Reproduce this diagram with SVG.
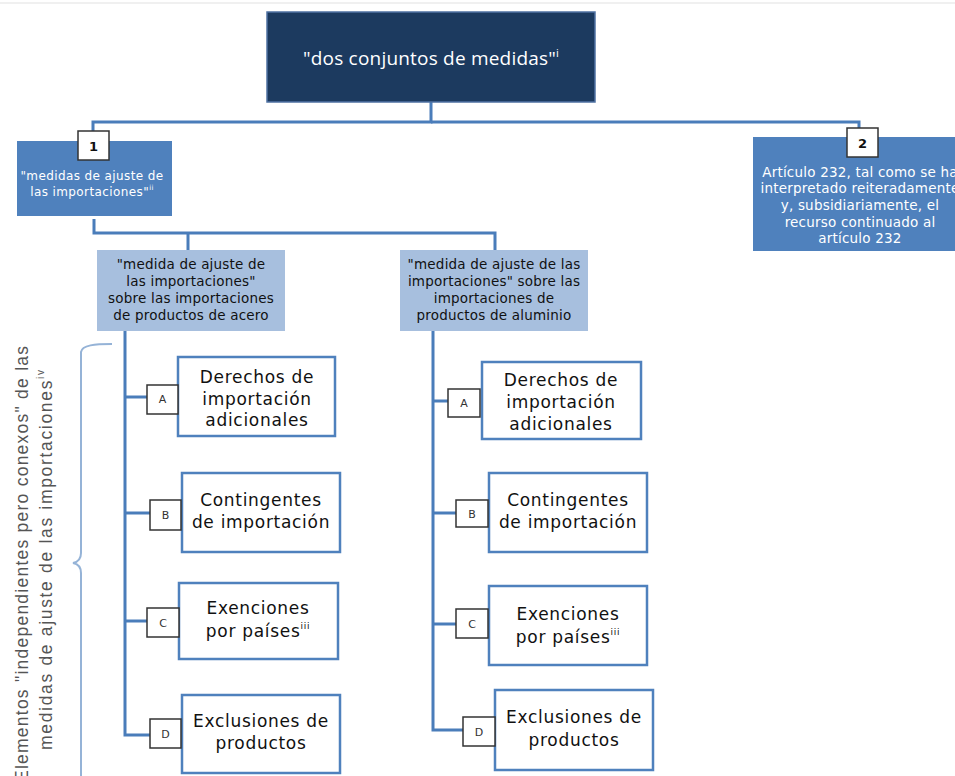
<svg xmlns="http://www.w3.org/2000/svg" width="955" height="776" viewBox="0 0 955 776">
<style>
  .conn{fill:none;stroke:#4a7dba;stroke-width:3;stroke-linejoin:miter}
  .badge{fill:#ffffff;stroke:#333333;stroke-width:1.5}
  .bl{font-family:"DejaVu Sans",Verdana,sans-serif;font-size:11px;fill:#333;text-anchor:middle}
  .bn{font-family:"DejaVu Sans",Verdana,sans-serif;font-size:13px;font-weight:bold;fill:#111;text-anchor:middle}
  .item{fill:#ffffff;stroke:#4f81bd;stroke-width:2.5}
  .it{font-family:"DejaVu Sans",Verdana,sans-serif;font-size:17px;fill:#111;text-anchor:middle;letter-spacing:0.7px}
  .mid{fill:#a7bfde}
  .mt{font-family:"DejaVu Sans",Verdana,sans-serif;font-size:13.5px;fill:#111;text-anchor:middle;letter-spacing:0.2px}
  .blue{fill:#4f81bd}
  .wt{font-family:"DejaVu Sans",Verdana,sans-serif;font-size:12px;fill:#ffffff;text-anchor:middle}
  .wt2{font-family:"DejaVu Sans",Verdana,sans-serif;font-size:13.5px;fill:#ffffff;text-anchor:middle;letter-spacing:0.2px}
</style>
<rect x="0" y="0" width="955" height="776" fill="#ffffff"/>
<line x1="0" y1="3" x2="955" y2="3" stroke="#f0f0f0" stroke-width="2"/>

<g id="connectors">
  <path class="conn" d="M431,102 V122 H93 V131"/>
  <path class="conn" d="M431,122 H859 V128"/>
  <path class="conn" d="M94,219 V233 H495 V250"/>
  <path class="conn" d="M188,233 V250"/>
  <path class="conn" d="M125,331 V735 H150"/>
  <path class="conn" d="M125,397 H147"/>
  <path class="conn" d="M125,513 H150"/>
  <path class="conn" d="M125,621 H147"/>
  <path class="conn" d="M433,331 V730 H463"/>
  <path class="conn" d="M433,401 H448"/>
  <path class="conn" d="M433,513 H456"/>
  <path class="conn" d="M433,624 H456"/>
</g>

<g id="root">
  <rect x="267" y="12" width="328" height="90" fill="#1c3a5f" stroke="#4f72a3" stroke-width="1.5"/>
  <text x="431" y="65" font-family="'Open Sans','DejaVu Sans',sans-serif" font-size="19" fill="#ffffff" text-anchor="middle" letter-spacing="0.2">"dos conjuntos de medidas"<tspan font-size="11" dy="-8">i</tspan></text>
</g>

<g id="node1">
  <rect class="blue" x="17" y="141" width="155" height="75"/>
  <text class="wt" x="92" y="180" letter-spacing="0.4">"medidas de ajuste de</text>
  <text class="wt" x="92" y="196" letter-spacing="0.4">las importaciones"<tspan font-size="7" dy="-6">ii</tspan></text>
  <rect class="badge" x="78" y="131" width="31" height="29"/>
  <text class="bn" x="93.5" y="151">1</text>
</g>

<g id="node2">
  <rect class="blue" x="753" y="137" width="214" height="114"/>
  <text class="wt2" x="860" y="177">Artículo 232,  tal como se ha</text>
  <text class="wt2" x="860" y="193">interpretado reiteradamente</text>
  <text class="wt2" x="860" y="210">y, subsidiariamente, el</text>
  <text class="wt2" x="860" y="227">recurso continuado al</text>
  <text class="wt2" x="860" y="243">artículo 232</text>
  <rect class="badge" x="847" y="128" width="31" height="29"/>
  <text class="bn" x="862.5" y="148">2</text>
</g>

<g id="steel">
  <rect class="mid" x="97" y="250" width="188" height="81"/>
  <text class="mt" x="191" y="269">"medida de ajuste de</text>
  <text class="mt" x="191" y="286">las importaciones"</text>
  <text class="mt" x="191" y="303">sobre las importaciones</text>
  <text class="mt" x="191" y="320">de productos de acero</text>
</g>

<g id="aluminium">
  <rect class="mid" x="400" y="250" width="188" height="81"/>
  <text class="mt" x="494" y="269">"medida de ajuste de las</text>
  <text class="mt" x="494" y="286">importaciones" sobre las</text>
  <text class="mt" x="494" y="303">importaciones de</text>
  <text class="mt" x="494" y="320">productos de aluminio</text>
</g>

<g id="steel-A">
  <rect class="item" x="178" y="357" width="157" height="79"/>
  <text class="it" x="257" y="383">Derechos de</text>
  <text class="it" x="257" y="405">importación</text>
  <text class="it" x="257" y="426">adicionales</text>
  <rect class="badge" x="147" y="385" width="31" height="29"/>
  <text class="bl" x="162.5" y="403">A</text>
</g>
<g id="steel-B">
  <rect class="item" x="182" y="473" width="158" height="79"/>
  <text class="it" x="261" y="506">Contingentes</text>
  <text class="it" x="261" y="528">de importación</text>
  <rect class="badge" x="150" y="500" width="31" height="30"/>
  <text class="bl" x="165.5" y="519">B</text>
</g>
<g id="steel-C">
  <rect class="item" x="179" y="583" width="159" height="76"/>
  <text class="it" x="258" y="614">Exenciones</text>
  <text class="it" x="258" y="637">por países<tspan font-size="9" dy="-8">iii</tspan></text>
  <rect class="badge" x="147" y="608" width="32" height="29"/>
  <text class="bl" x="163" y="627">C</text>
</g>
<g id="steel-D">
  <rect class="item" x="182" y="695" width="158" height="78"/>
  <text class="it" x="261" y="727">Exclusiones de</text>
  <text class="it" x="261" y="749">productos</text>
  <rect class="badge" x="150" y="719" width="31" height="29"/>
  <text class="bl" x="165.5" y="738">D</text>
</g>

<g id="alu-A">
  <rect class="item" x="482" y="362" width="159" height="77"/>
  <text class="it" x="561" y="386">Derechos de</text>
  <text class="it" x="561" y="408">importación</text>
  <text class="it" x="561" y="430">adicionales</text>
  <rect class="badge" x="448" y="389" width="32" height="28"/>
  <text class="bl" x="464" y="407">A</text>
</g>
<g id="alu-B">
  <rect class="item" x="489" y="473" width="158" height="79"/>
  <text class="it" x="568" y="506">Contingentes</text>
  <text class="it" x="568" y="528">de importación</text>
  <rect class="badge" x="456" y="500" width="32" height="27"/>
  <text class="bl" x="472" y="518">B</text>
</g>
<g id="alu-C">
  <rect class="item" x="489" y="586" width="158" height="79"/>
  <text class="it" x="568" y="620">Exenciones</text>
  <text class="it" x="568" y="643">por países<tspan font-size="9" dy="-8">iii</tspan></text>
  <rect class="badge" x="456" y="609" width="32" height="29"/>
  <text class="bl" x="472" y="628">C</text>
</g>
<g id="alu-D">
  <rect class="item" x="495" y="690" width="158" height="80"/>
  <text class="it" x="574" y="723">Exclusiones de</text>
  <text class="it" x="574" y="746">productos</text>
  <rect class="badge" x="463" y="717" width="32" height="29"/>
  <text class="bl" x="479" y="736">D</text>
</g>

<g id="brace-label">
  <path d="M112,344 C95,344 82,345 81,352 V553 C81,559 78,562 73,563 C78,564 81,567 81,573 V776" fill="none" stroke="#95b3d7" stroke-width="2"/>
  <text transform="translate(28,564) rotate(-90)" font-family="'Liberation Sans','DejaVu Sans',sans-serif" font-size="17.5" fill="#555555" text-anchor="middle" textLength="436" lengthAdjust="spacing">Elementos "independientes pero conexos" de las</text>
  <text transform="translate(52,560) rotate(-90)" font-family="'Liberation Sans','DejaVu Sans',sans-serif" font-size="17.5" fill="#555555" text-anchor="middle" textLength="380" lengthAdjust="spacing">medidas de ajuste de las importaciones<tspan font-size="10" dy="-8">iv</tspan></text>
</g>
</svg>
